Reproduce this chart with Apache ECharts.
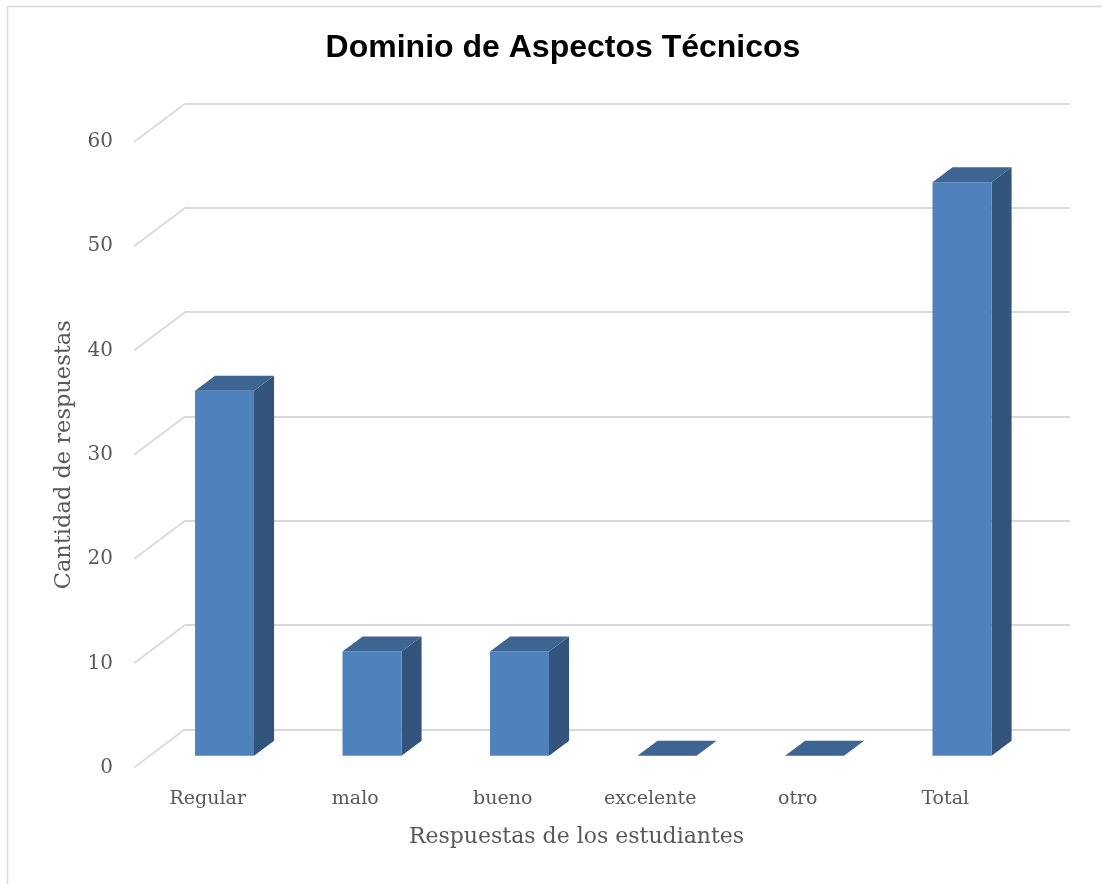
<!DOCTYPE html>
<html>
<head>
<meta charset="utf-8">
<title>Dominio de Aspectos Técnicos</title>
<script src="https://cdn.jsdelivr.net/npm/echarts@6/dist/echarts.min.js"></script>
<style>
html,body{margin:0;padding:0;background:#fff;}
#chart{width:1102px;height:884px;}
</style>
</head>
<body>
<div id="chart"></div>
<script>
// datos del grafico
var categorias = ['Regular', 'malo', 'bueno', 'excelente', 'otro', 'Total'];
var respuestas = [35, 10, 10, 0, 0, 55];
var marcas = [0, 10, 20, 30, 40, 50, 60];

var textoGris = '#595959';
var fuenteSerif = '"DejaVu Serif", serif';

var myChart = echarts.init(document.getElementById('chart'));

// barras con efecto 3D
function dibujarBarra(params, api){
	var i = api.value(0);
	var v = api.value(1);
	var top = api.coord([i, v]);
	var base = api.coord([i, 0]);
	var bw = api.size([1, 0])[0];
	var x0 = top[0] - bw * 0.432;
	var x1 = top[0] - bw * 0.032;
	var dy = 26.4;
	var px = bw * 0.136, py = -15;
	var yt = top[1] + dy, yb = base[1] + dy;
	return {
		type: 'group',
		children: [
			{
				type: 'polygon',
				shape: {points: [[x1, yt], [x1 + px, yt + py], [x1 + px, yb + py], [x1, yb]]},
				style: {fill: '#32547d'}
			},
			{
				type: 'rect',
				shape: {x: x0, y: yt, width: x1 - x0, height: yb - yt},
				style: {fill: '#4f81bd'}
			},
			{
				type: 'polygon',
				shape: {points: [[x0, yt], [x1, yt], [x1 + px, yt + py], [x0 + px, yt + py]]},
				style: {fill: '#3d6591'}
			}
		]
	};
}

// lineas diagonales del piso/pared
function dibujarDiagonal(params, api){
	var c = api.coord([0, api.value(0)]);
	var x = params.coordSys.x;
	return {
		type: 'line',
		shape: {x1: x, y1: c[1], x2: x - 51, y2: c[1] + 38.3},
		style: {stroke: '#d9d9d9', lineWidth: 1.8}
	};
}

option = {
	backgroundColor: '#ffffff',
	animation: false,
	title: {
		text: 'Dominio de Aspectos Técnicos',
		left: 558,
		top: 27,
		textAlign: 'center',
		textStyle: {
			fontFamily: '"Liberation Sans", Arial, sans-serif',
			fontWeight: 'bold',
			fontSize: 32,
			color: '#000000'
		}
	},
	graphic: [{
		type: 'rect',
		shape: {x: 7.5, y: 6.5, width: 1200, height: 1000},
		style: {fill: 'none', stroke: '#d9d9d9', lineWidth: 1.5},
		silent: true
	}],
	grid: [
		{left: 185, right: 32, top: 103.7, bottom: 154.7},
		{left: 134, right: 83, top: 142, bottom: 116.4}
	],
	xAxis: [
		{
			type: 'category',
			gridIndex: 0,
			data: categorias,
			axisLine: {show: false},
			axisTick: {show: false},
			axisLabel: {show: false}
		},
		{
			type: 'category',
			gridIndex: 1,
			data: categorias,
			axisLine: {show: false},
			axisTick: {show: false},
			axisLabel: {
				margin: 22,
				fontFamily: fuenteSerif,
				fontSize: 19,
				color: textoGris
			},
			name: 'Respuestas de los estudiantes',
			nameLocation: 'middle',
			nameGap: 59,
			nameTextStyle: {fontFamily: fuenteSerif, fontSize: 22, color: textoGris}
		}
	],
	yAxis: [
		{
			type: 'value',
			gridIndex: 0,
			min: 0,
			max: 60,
			interval: 10,
			axisLine: {show: false},
			axisTick: {show: false},
			axisLabel: {show: false},
			splitLine: {lineStyle: {color: '#d9d9d9', width: 1.8}}
		},
		{
			type: 'value',
			gridIndex: 1,
			min: 0,
			max: 60,
			interval: 10,
			axisLine: {show: false},
			axisTick: {show: false},
			splitLine: {show: false},
			axisLabel: {
				margin: 21,
				fontFamily: fuenteSerif,
				fontSize: 20,
				color: textoGris
			},
			name: 'Cantidad de respuestas',
			nameLocation: 'middle',
			nameGap: 58,
			nameTextStyle: {fontFamily: fuenteSerif, fontSize: 22.5, color: textoGris}
		}
	],
	series: [
		{
			type: 'custom',
			xAxisIndex: 0,
			yAxisIndex: 0,
			renderItem: dibujarDiagonal,
			data: marcas.map(function(m){ return [m]; }),
			silent: true,
			z: 1
		},
		{
			type: 'custom',
			xAxisIndex: 0,
			yAxisIndex: 0,
			renderItem: dibujarBarra,
			data: categorias.map(function(c, i){ return [i, respuestas[i]]; }),
			z: 5
		}
	]
};
myChart.setOption(option);
</script>
</body>
</html>
